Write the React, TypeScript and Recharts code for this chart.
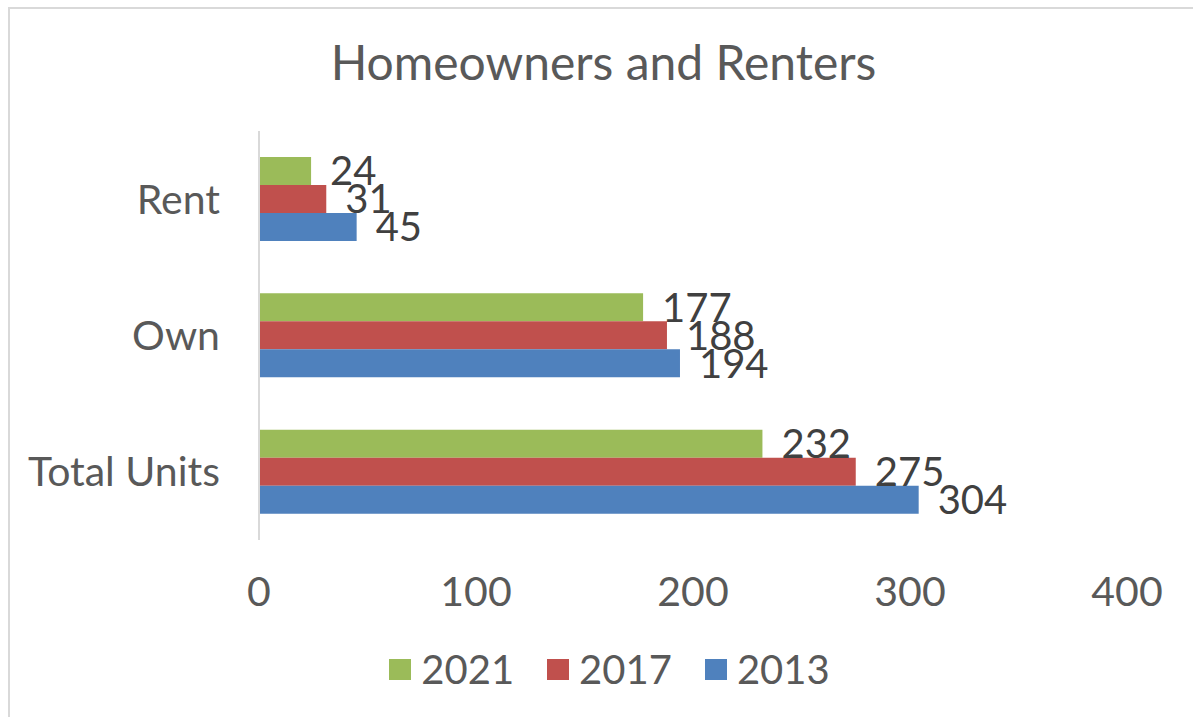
import { BarChart, Bar, XAxis, YAxis, Legend, LabelList } from 'recharts';

const categories = ['Rent', 'Own', 'Total Units'];
const values2021 = [24, 177, 232];
const values2017 = [31, 188, 275];
const values2013 = [45, 194, 304];
const xTicks = [0, 100, 200, 300, 400];
const legendOrder = ['2021', '2017', '2013'];

const data = categories.map((name, i) => ({
  name,
  y2021: values2021[i],
  y2017: values2017[i],
  y2013: values2013[i],
}));

const FONT = 'Lato, "Open Sans", sans-serif';

const renderLegend = (props: any) => {
  const items = [...props.payload].sort(
    (a: any, b: any) => legendOrder.indexOf(a.value) - legendOrder.indexOf(b.value)
  );
  return (
    <div style={{ display: 'flex', justifyContent: 'center', alignItems: 'center', fontFamily: FONT, paddingLeft: 26 }}>
      {items.map((entry: any, i: number) => (
        <div key={i} style={{ display: 'flex', alignItems: 'center', marginRight: i < items.length - 1 ? 33 : 0 }}>
          <span style={{ width: 22, height: 21, background: entry.color, display: 'inline-block', marginRight: 10 }} />
          <span style={{ fontSize: 40, color: '#595959', lineHeight: '50px' }}>{entry.value}</span>
        </div>
      ))}
    </div>
  );
};

export default function App() {
  return (
    <div style={{ position: 'absolute', left: 0, top: 0, width: 1193, height: 717, background: '#fff', overflow: 'hidden' }}>
      <div
        style={{
          position: 'absolute',
          left: 8,
          top: 7,
          width: 1200,
          height: 720,
          borderLeft: '2px solid #D9D9D9',
          borderTop: '2px solid #D9D9D9',
        }}
      />
      <div
        style={{
          position: 'absolute',
          left: 0,
          width: 1207,
          top: 32,
          textAlign: 'center',
          fontFamily: FONT,
          fontSize: 48,
          color: '#595959',
          lineHeight: '60px',
        }}
      >
        Homeowners and Renters
      </div>
      <BarChart
        width={1193}
        height={717}
        data={data}
        layout="vertical"
        margin={{ top: 131, right: 66, bottom: 117, left: 0 }}
        barGap={0}
        style={{ position: 'absolute', left: 0, top: 0 }}
      >
        <XAxis
          type="number"
          domain={[0, 400]}
          ticks={xTicks}
          axisLine={false}
          tickLine={false}
          tickSize={0}
          tickMargin={37}
          height={60}
          interval={0}
          tick={{ fill: '#595959', fontSize: 41, fontFamily: FONT }}
        />
        <YAxis
          type="category"
          dataKey="name"
          width={259}
          axisLine={{ stroke: '#D9D9D9', strokeWidth: 2 }}
          tickLine={false}
          tickSize={0}
          tickMargin={39}
          tick={{ fill: '#595959', fontSize: 41, fontFamily: FONT }}
        />
        <Legend
          verticalAlign="middle"
          align="center"
          layout="horizontal"
          content={renderLegend}
          wrapperStyle={{ position: 'absolute', top: 644, left: 0, width: 1193, height: 50 }}
        />
        <Bar dataKey="y2021" name="2021" fill="#9BBB59" barSize={28} isAnimationActive={false}>
          <LabelList dataKey="y2021" position="right" offset={19} fill="#404040" fontSize={40} fontFamily={FONT} />
        </Bar>
        <Bar dataKey="y2017" name="2017" fill="#C0504D" barSize={28} isAnimationActive={false}>
          <LabelList dataKey="y2017" position="right" offset={19} fill="#404040" fontSize={40} fontFamily={FONT} />
        </Bar>
        <Bar dataKey="y2013" name="2013" fill="#4F81BD" barSize={28} isAnimationActive={false}>
          <LabelList dataKey="y2013" position="right" offset={19} fill="#404040" fontSize={40} fontFamily={FONT} />
        </Bar>
      </BarChart>
    </div>
  );
}
